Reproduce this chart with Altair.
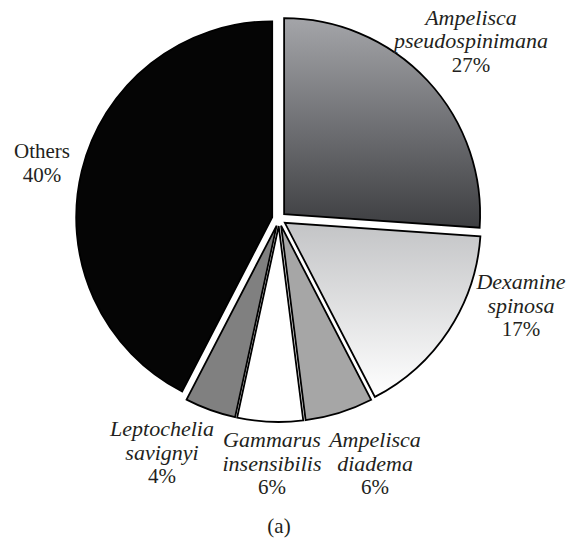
import math
import altair as alt
import pandas as pd

# ---- data ----
species = [
    "Ampelisca pseudospinimana",
    "Dexamine spinosa",
    "Ampelisca diadema",
    "Gammarus insensibilis",
    "Leptochelia savignyi",
    "Others",
]
values = [26.1, 16.3, 5.6, 5.4, 4.2, 42.4]          # slice shares (angles measured)
pct_labels = ["27%", "17%", "6%", "6%", "4%", "40%"]  # printed percentages
name_lines = [
    ["Ampelisca", "pseudospinimana"],
    ["Dexamine", "spinosa"],
    ["Ampelisca", "diadema"],
    ["Gammarus", "insensibilis"],
    ["Leptochelia", "savignyi"],
    ["Others"],
]
italic_name = [True, True, True, True, True, False]
caption = "(a)"

# ---- styles / layout ----
CX, CY, R, D = 271, 211, 196, 7  # pie centre, radius, explosion (pixels)
fills = [
    alt.LinearGradient(gradient="linear", x1=0, y1=0, x2=0, y2=1,
                       stops=[alt.GradientStop(color="#a4a5a9", offset=0),
                              alt.GradientStop(color="#3d3e41", offset=1)]),
    alt.LinearGradient(gradient="linear", x1=0, y1=0, x2=0, y2=1,
                       stops=[alt.GradientStop(color="#c3c4c6", offset=0),
                              alt.GradientStop(color="#ffffff", offset=1)]),
    "#a6a6a6",
    "#ffffff",
    "#808080",
    "#050505",
]
label_anchor = [(463, 16.5), (513, 281), (367, 439), (264, 439), (154, 428), (34, 150)]
LINE_H = 23.5
TEXT_COLOR = "#231f20"
FONT = "Liberation Serif"
FS_ITALIC = 22
FS_NORMAL = 21

df = pd.DataFrame({"species": species, "value": values, "order": list(range(len(species)))})

base = (
    alt.Chart(df)
    .transform_joinaggregate(total="sum(value)")
    .transform_window(cum="sum(value)", sort=[alt.SortField("order")], frame=[None, 0])
    .transform_calculate(start="(datum.cum - datum.value) / datum.total")
    .transform_calculate(end="datum.cum / datum.total")
    .transform_calculate(mid="PI * (datum.start + datum.end)")
    .transform_calculate(cx=f"{CX} + {D} * sin(datum.mid)")
    .transform_calculate(cy=f"{CY} - {D} * cos(datum.mid)")
)

layers = []
for name, fill in zip(species, fills):
    layers.append(
        base.transform_filter(alt.datum.species == name)
        .mark_arc(fill=fill, stroke="black", strokeWidth=1.8, radius=R)
        .encode(
            theta=alt.Theta("start:Q", scale=alt.Scale(domain=[0, 1], range=[0, 2 * math.pi])),
            theta2=alt.Theta2("end:Q"),
            x=alt.X("cx:Q", scale=None, axis=None),
            y=alt.Y("cy:Q", scale=None, axis=None),
        )
    )

# label rows
rows = []
for i in range(len(species)):
    ax, ay = label_anchor[i]
    k = 0
    for ln in name_lines[i]:
        rows.append({"text": ln, "x": ax, "y": ay + k * LINE_H,
                     "style": "italic" if italic_name[i] else "normal"})
        k += 1
    rows.append({"text": pct_labels[i], "x": ax, "y": ay + k * LINE_H, "style": "normal"})
rows.append({"text": caption, "x": CX, "y": 525, "style": "normal"})
ldf = pd.DataFrame(rows)

for st, fs in [("italic", FS_ITALIC), ("normal", FS_NORMAL)]:
    layers.append(
        alt.Chart(ldf)
        .transform_filter(alt.datum.style == st)
        .mark_text(font=FONT, fontSize=fs, fontStyle=st, align="center",
                   baseline="alphabetic", color=TEXT_COLOR)
        .encode(
            x=alt.X("x:Q", scale=None, axis=None),
            y=alt.Y("y:Q", scale=None, axis=None),
            text="text:N",
        )
    )

chart = (
    alt.layer(*layers)
    .properties(width=558, height=535, padding=0, autosize=alt.AutoSizeParams(type="none"))
    .configure_view(stroke=None)
)

chart.save("out.html", embed_options={"renderer": "svg", "actions": False})
